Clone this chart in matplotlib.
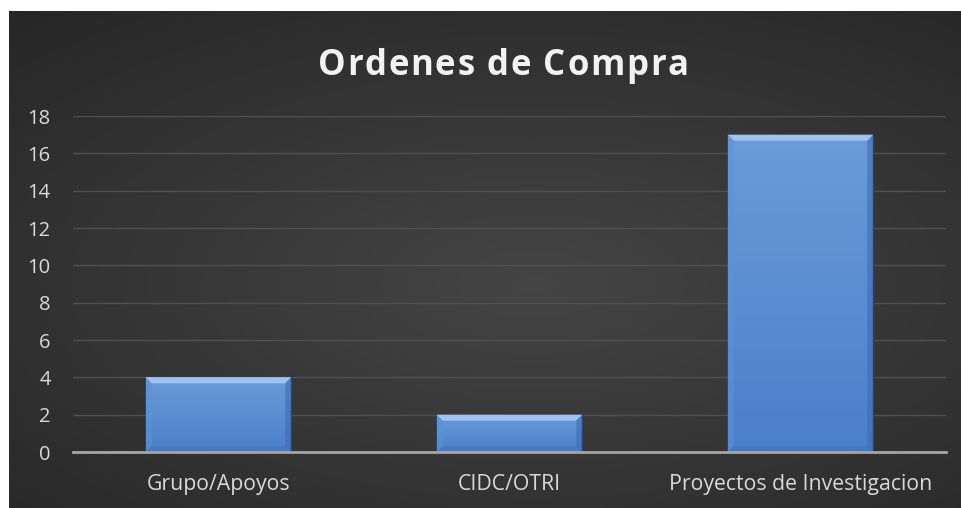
import numpy as np
from matplotlib import pyplot as plt
from matplotlib.patches import Polygon

categories = ['Grupo/Apoyos', 'CIDC/OTRI', 'Proyectos de Investigacion']
values = [4, 2, 17]
yticks = [0, 2, 4, 6, 8, 10, 12, 14, 16, 18]
title = 'Ordenes de Compra'

W, H = 962, 508
fig = plt.figure(figsize=(W / 100, H / 100), dpi=100)
fig.patch.set_facecolor('white')

# dark radial background (Excel style)
bg = fig.add_axes([9 / W, 0, (W - 9) / W, (H - 11) / H])
bg.set_axis_off()
yy, xx = np.mgrid[0:1:300j, 0:1:600j]
r = np.sqrt(((xx - 0.55) / 0.9) ** 2 + ((yy - 0.45) / 0.8) ** 2)
shade = np.clip(0.27 - 0.13 * r, 0.14, 0.27)
bg.imshow(np.dstack([shade] * 3), aspect='auto', extent=[0, 1, 0, 1], origin='lower')

ax = fig.add_axes([73 / W, (H - 452) / H, (946 - 73) / W, (452 - 116) / H])
ax.set_facecolor('none')
x = np.arange(len(categories))
bars = ax.bar(x, values, width=0.5, color='#4f86cf', zorder=3)

ax.set_yticks(yticks)
ax.set_xticks(x)
ax.set_xticklabels(categories)
ax.grid(axis='y', color='#505050', linewidth=1.0, zorder=0)
for s in ['top', 'right', 'left']:
    ax.spines[s].set_visible(False)
ax.spines['bottom'].set_color('#a6a6a6')
ax.spines['bottom'].set_linewidth(2)
ax.spines['bottom'].set_zorder(5)
ax.tick_params(length=0, colors='#d9d9d9', labelsize=14.5)
ax.tick_params(axis='x', labelsize=15.3, pad=16)
ax.tick_params(axis='y', pad=16)
for lab in ax.get_xticklabels() + ax.get_yticklabels():
    lab.set_fontfamily('Open Sans')

# gradient fill + bevel on each bar
px_x = (946 - 73) / 3.0   # pixels per category unit
px_y = (452 - 116) / 18.0  # pixels per value unit
bev = 6
grad = np.linspace(0, 1, 100).reshape(-1, 1)
top_c = np.array([0.42, 0.61, 0.85])
bot_c = np.array([0.29, 0.50, 0.79])
for b in bars:
    x0, w, h = b.get_x(), b.get_width(), b.get_height()
    img = bot_c + (top_c - bot_c) * grad[:, :, None]
    im = ax.imshow(img, extent=[x0, x0 + w, 0, h], origin='lower', aspect='auto', zorder=3)
    im.set_clip_path(b)
    dx, dy = bev / px_x, bev / px_y
    x1 = x0 + w
    ax.add_patch(Polygon([[x0, h], [x1, h], [x1 - dx, h - dy], [x0 + dx, h - dy]],
                         closed=True, color='#9fc3f0', zorder=4, lw=0))
    ax.add_patch(Polygon([[x0, h], [x0 + dx, h - dy], [x0 + dx, dy], [x0, 0]],
                         closed=True, color='#5e92d6', alpha=0.6, zorder=4, lw=0))
    ax.add_patch(Polygon([[x1, h], [x1 - dx, h - dy], [x1 - dx, dy], [x1, 0]],
                         closed=True, color='#3b6db5', alpha=0.6, zorder=4, lw=0))
    ax.add_patch(Polygon([[x0, 0], [x0 + dx, dy], [x1 - dx, dy], [x1, 0]],
                         closed=True, color='#3f72bb', alpha=0.5, zorder=4, lw=0))
    ax.plot([x1, x1], [0, h], color='#23437a', lw=1, zorder=4)

ax.set_xlim(-0.5, 2.5)
ax.set_ylim(0, 18)

# title with letter spacing, placed character by character
fs = 25
spacing = 1.7  # extra px between letters
renderer = fig.canvas.get_renderer()
widths = []
for ch in title:
    t = fig.text(0, 0, ch if ch != ' ' else 'a a', fontsize=fs, fontweight='bold', fontfamily='Open Sans')
    wpx = t.get_window_extent(renderer).width
    if ch == ' ':
        t2 = fig.text(0, 0, 'aa', fontsize=fs, fontweight='bold', fontfamily='Open Sans')
        wpx -= t2.get_window_extent(renderer).width
        t2.remove()
    t.remove()
    widths.append(wpx)
total = sum(widths) + spacing * (len(title) - 1)
cx, cy = 503, H - 66
xpos = cx - total / 2
for ch, wpx in zip(title, widths):
    if ch != ' ':
        fig.text(xpos / W, cy / H, ch, ha='left', va='center', color='#f2f2f2',
                 fontsize=fs, fontweight='bold', fontfamily='Open Sans')
    xpos += wpx + spacing

plt.savefig('out.png', dpi=100, facecolor=fig.get_facecolor())
